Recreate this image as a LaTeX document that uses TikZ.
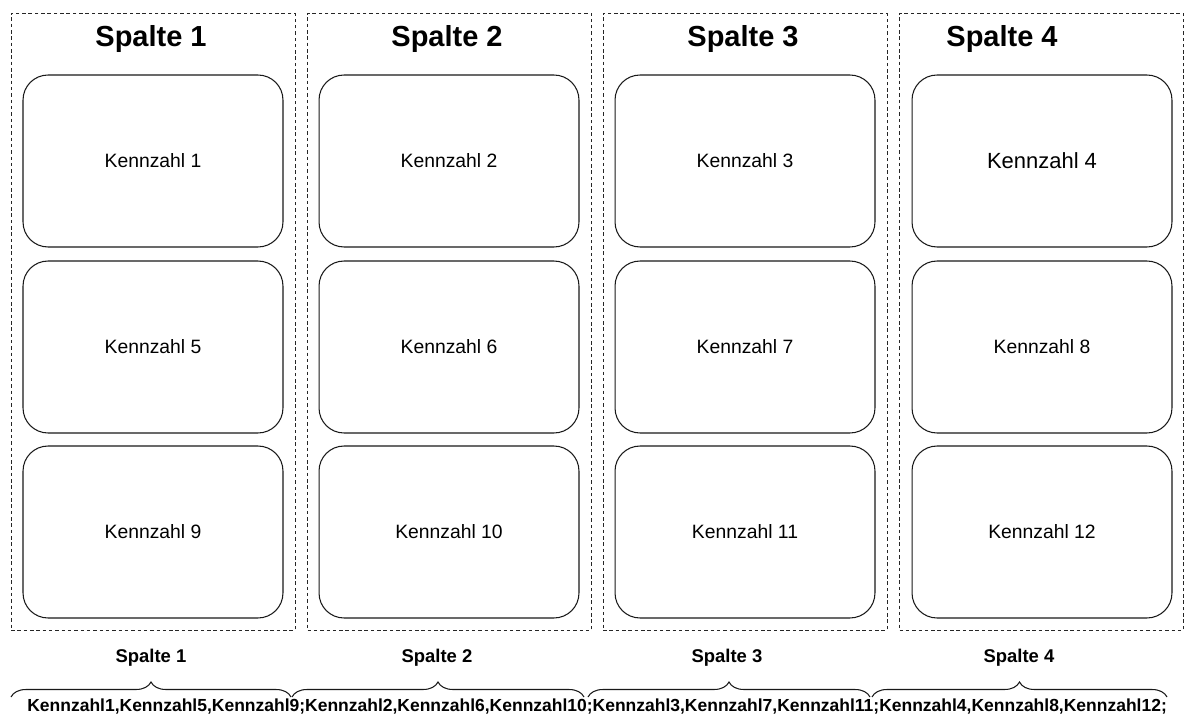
\documentclass[tikz,border=0pt]{standalone}
\usepackage{fontspec}
\setmainfont{Liberation Sans}
\usetikzlibrary{positioning, decorations.pathreplacing}

\begin{document}
\begin{tikzpicture}[x=0.02cm, y=-0.02cm,
  spaltebox/.style={draw=black!85, dashed, dash pattern=on 2pt off 1.6pt, line width=0.5pt, minimum width=5.68cm, minimum height=12.34cm, inner sep=0pt},
  kennbox/.style={draw=black!90, rounded corners=0.5cm, line width=0.6pt, minimum width=5.2cm, minimum height=3.44cm, inner sep=0pt, font=\fontsize{11}{13}\selectfont},
  titel/.style={font=\fontsize{16.5}{18}\selectfont\bfseries, inner sep=0pt},
  unterlabel/.style={font=\fontsize{10.5}{12}\selectfont\bfseries, inner sep=0pt},
  klammer/.style={draw=black!90, line width=0.6pt, decorate, decoration={brace, amplitude=0.3cm}}]
\useasboundingbox (0,0) rectangle (1186,716);
% dashed columns
\node[spaltebox] (s1) at (153,321.5) {};
\node[spaltebox] (s2) at (449.5,321.5) {};
\node[spaltebox] (s3) at (745,321.5) {};
\node[spaltebox] (s4) at (1041.5,321.5) {};
\node[titel] (t1) at (151,39) {Spalte 1};
\node[titel] (t2) at (447,39) {Spalte 2};
\node[titel] (t3) at (743,39) {Spalte 3};
\node[titel] (t4) at (1002,39) {Spalte 4};
% rounded boxes
\node[kennbox] (k1) at (153,161) {Kennzahl 1};
\node[kennbox] (k2) at (449,161) {Kennzahl 2};
\node[kennbox] (k3) at (745,161) {Kennzahl 3};
\node[kennbox, font=\fontsize{12.5}{14}\selectfont] (k4) at (1042,161) {Kennzahl 4};
\node[kennbox] (k5) at (153,347) {Kennzahl 5};
\node[kennbox] (k6) at (449,347) {Kennzahl 6};
\node[kennbox] (k7) at (745,347) {Kennzahl 7};
\node[kennbox] (k8) at (1042,347) {Kennzahl 8};
\node[kennbox] (k9) at (153,532) {Kennzahl 9};
\node[kennbox] (k10) at (449,532) {Kennzahl 10};
\node[kennbox] (k11) at (745,532) {Kennzahl 11};
\node[kennbox] (k12) at (1042,532) {Kennzahl 12};
% braces below
\node[unterlabel] (u1) at (151,658) {Spalte 1};
\node[unterlabel] (u2) at (437,658) {Spalte 2};
\node[unterlabel] (u3) at (727,658) {Spalte 3};
\node[unterlabel] (u4) at (1019,658) {Spalte 4};
\coordinate (b1a) at (11,697);  \coordinate (b1b) at (291,697);
\coordinate (b2a) at (292,697); \coordinate (b2b) at (584,697);
\coordinate (b3a) at (588,697); \coordinate (b3b) at (870,697);
\coordinate (b4a) at (872,697); \coordinate (b4b) at (1167,697);
\draw[klammer] (b1a) -- (b1b);
\draw[klammer] (b2a) -- (b2b);
\draw[klammer] (b3a) -- (b3b);
\draw[klammer] (b4a) -- (b4b);
\node[anchor=west, inner sep=0pt, font=\fontsize{9.95}{11}\selectfont\bfseries] (liste) at (27,706.5) {Kennzahl1,Kennzahl5,Kennzahl9;Kennzahl2,Kennzahl6,Kennzahl10;Kennzahl3,Kennzahl7,Kennzahl11;Kennzahl4,Kennzahl8,Kennzahl12;};
\end{tikzpicture}
\end{document}
